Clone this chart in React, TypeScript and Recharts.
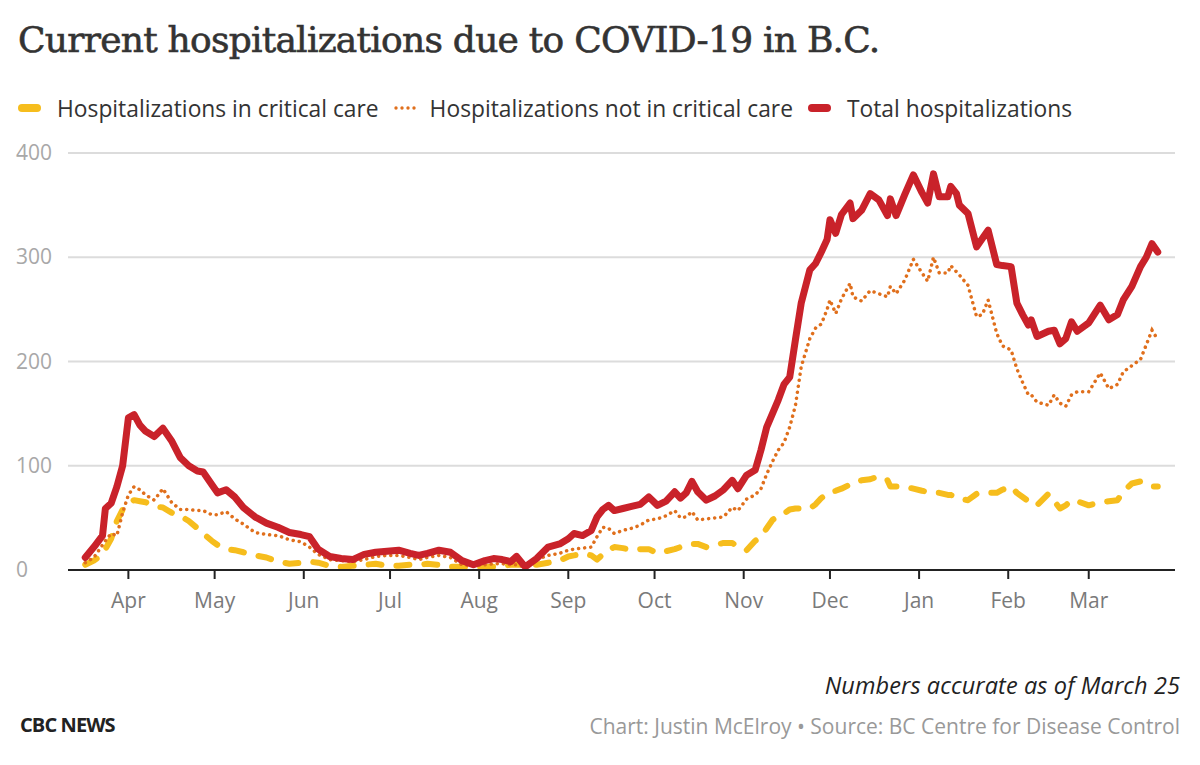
import { LineChart, Line, XAxis, YAxis, CartesianGrid } from "recharts";

// days counted from April 1, 2020 (day 0)
const DAYS = [
  -15, -12, -9, -8, -6, -4, -2, 0, 2, 4, 6, 9, 12, 15, 18, 21, 24, 26, 29, 31,
  34, 37, 40, 44, 48, 52, 56, 60, 63, 66, 70, 74, 78, 82, 86, 90, 94, 98, 101,
  104, 108, 112, 116, 120, 124, 127, 130, 133, 135, 138, 142, 146, 150, 153,
  155, 158, 161, 163, 165, 167, 169, 172, 175, 178, 181, 184, 187, 190, 192,
  194, 196, 198, 201, 204, 207, 210, 212, 215, 218, 220, 222, 224, 226, 228,
  230, 232, 234, 237, 239, 241, 243, 244, 246, 248, 251, 252, 255, 258, 261,
  264, 265, 267, 270, 273, 276, 278, 280, 282, 285, 286, 288, 289, 292, 295,
  297, 299, 302, 304, 307, 309, 311, 313, 314, 316, 320, 322, 324, 326, 328,
  330, 334, 338, 341, 344, 346, 349, 352, 354, 356, 358,
];

const TOTAL = [
  12, 22, 33, 59, 64, 80, 100, 146, 149, 139, 133, 128, 136, 124, 108, 100, 95,
  94, 82, 74, 77, 70, 60, 51, 45, 41, 36, 34, 32, 20, 13, 11, 10, 15, 17, 18,
  19, 16, 14, 16, 19, 17, 9, 5, 9, 11, 10, 8, 13, 3, 11, 22, 25, 30, 35, 33, 38,
  51, 58, 62, 57, 59, 61, 63, 70, 62, 66, 75, 69, 74, 85, 75, 67, 71, 77, 86,
  78, 91, 96, 115, 137, 150, 163, 178, 185, 221, 256, 288, 294, 305, 317, 336,
  323, 341, 352, 337, 345, 361, 355, 340, 356, 340, 360, 379, 362, 352, 380,
  358, 358, 368, 361, 350, 342, 310, 318, 326, 293, 292, 291, 256, 245, 235,
  240, 224, 229, 230, 217, 222, 238, 229, 237, 254, 240, 245, 259, 272, 291,
  300, 313, 305,
];

const NOT_CRITICAL = [
  7, 12, 24, 28, 35, 33, 55, 72, 80, 77, 72, 67, 78, 65, 58, 58, 57, 57, 53, 53,
  56, 49, 44, 36, 34, 33, 29, 27, 22, 15, 10, 9, 8, 10, 13, 14, 14, 12, 10, 12,
  14, 12, 5, 4, 5, 6, 6, 5, 5, 3, 10, 14, 16, 19, 20, 21, 22, 32, 41, 40, 35, 38,
  40, 43, 48, 49, 52, 57, 50, 51, 56, 48, 49, 50, 51, 60, 57, 68, 72, 78, 92,
  104, 115, 122, 137, 158, 195, 222, 232, 236, 250, 259, 246, 260, 275, 262,
  258, 268, 265, 262, 272, 265, 278, 298, 285, 277, 300, 285, 285, 292, 286,
  283, 273, 243, 245, 259, 227, 215, 211, 193, 180, 168, 168, 161, 158, 168,
  160, 157, 168, 171, 171, 189, 174, 178, 190, 196, 202, 216, 230, 221,
];

const CRITICAL = [
  5, 9, 15, 20, 30, 47, 58, 64, 67, 66, 65, 61, 60, 55, 52, 47, 40, 35, 28, 24,
  20, 19, 17, 14, 12, 8, 6, 7, 8, 7, 4, 3, 4, 5, 6, 4, 4, 5, 5, 6, 5, 3, 3, 3, 3,
  3, 4, 5, 5, 5, 5, 7, 9, 13, 14, 16, 14, 10, 15, 19, 22, 21, 19, 20, 20, 16,
  18, 20, 22, 24, 25, 25, 22, 24, 26, 26, 22, 19, 28, 32, 40, 48, 52, 54, 58,
  59, 59, 59, 63, 69, 73, 75, 76, 78, 82, 84, 86, 87, 90, 86, 80, 80, 80, 78,
  76, 75, 74, 74, 72, 72, 70, 68, 67, 73, 74, 74, 74, 77, 80, 74, 70, 66, 63,
  62, 73, 66, 59, 62, 67, 66, 62, 65, 66, 67, 75, 83, 85, 82, 80, 80,
];

const MONTH_TICKS = [0, 30, 61, 91, 122, 153, 183, 214, 244, 275, 306, 334];
const MONTH_LABELS = [
  "Apr", "May", "Jun", "Jul", "Aug", "Sep",
  "Oct", "Nov", "Dec", "Jan", "Feb", "Mar",
];
const Y_TICKS = [0, 100, 200, 300, 400];

const data = DAYS.map((day, i) => ({
  day,
  total: TOTAL[i],
  notCritical: NOT_CRITICAL[i],
  critical: CRITICAL[i],
}));

const RED = "#c9222a";
const ORANGE = "#e06f1c";
const YELLOW = "#f6bd1d";
const SANS = "'Open Sans', sans-serif";

const YTick = ({ y, payload }: any) => (
  <text x={16} y={y} dy={7} fill="#a8a8a8" fontSize={21} fontFamily={SANS}>
    {payload.value}
  </text>
);

function LegendItem({ kind, color, label }: { kind: string; color: string; label: string }) {
  return (
    <span style={{ display: "inline-flex", alignItems: "center", marginRight: 15 }}>
      {kind === "dots" ? (
        <svg width={22} height={8} style={{ marginRight: 14 }}>
          {[2, 8, 14, 20].map((cx) => (
            <circle key={cx} cx={cx} cy={4} r={1.7} fill={color} />
          ))}
        </svg>
      ) : (
        <span
          style={{
            display: "inline-block",
            width: 23,
            height: 8,
            borderRadius: 4,
            background: color,
            marginRight: 16,
          }}
        />
      )}
      {label}
    </span>
  );
}

export default function App() {
  return (
    <div
      style={{
        position: "absolute",
        left: 0,
        top: 0,
        width: 1200,
        height: 765,
        background: "#fff",
        overflow: "hidden",
      }}
    >
      <div
        style={{
          position: "absolute",
          left: 18,
          top: 19,
          fontFamily: "'DejaVu Serif', serif",
          fontSize: 36,
          color: "#333",
          letterSpacing: -0.75,
          WebkitTextStroke: "0.6px #333",
          whiteSpace: "nowrap",
        }}
      >
        Current hospitalizations due to COVID-19 in B.C.
      </div>
      <div
        style={{
          position: "absolute",
          left: 18,
          top: 88,
          fontFamily: SANS,
          fontSize: 22.8,
          color: "#333",
          whiteSpace: "nowrap",
        }}
      >
        <LegendItem kind="bar" color={YELLOW} label="Hospitalizations in critical care" />
        <LegendItem kind="dots" color={ORANGE} label="Hospitalizations not in critical care" />
        <LegendItem kind="bar" color={RED} label="Total hospitalizations" />
      </div>

      <div style={{ position: "absolute", left: 0, top: 0 }}>
        <LineChart
          width={1200}
          height={765}
          data={data}
          margin={{ top: 153, right: 25, bottom: 135, left: 8 }}
        >
          <CartesianGrid vertical={false} stroke="#dcdcdc" strokeWidth={2} />
          <XAxis
            dataKey="day"
            type="number"
            domain={[-21, 364]}
            ticks={MONTH_TICKS}
            tickFormatter={(v: number) => MONTH_LABELS[MONTH_TICKS.indexOf(v)]}
            axisLine={{ stroke: "#222", strokeWidth: 2 }}
            tickLine={{ stroke: "#222", strokeWidth: 2 }}
            tickSize={9}
            tickMargin={14}
            tick={{ fill: "#7a7a7a", fontSize: 21, fontFamily: SANS }}
            height={60}
          />
          <YAxis
            domain={[0, 400]}
            ticks={Y_TICKS}
            width={60}
            axisLine={false}
            tickLine={false}
            tick={<YTick />}
          />
          <Line
            dataKey="critical"
            stroke={YELLOW}
            strokeWidth={6}
            strokeDasharray="13 15"
            strokeLinecap="round"
            strokeLinejoin="round"
            dot={false}
            type="linear"
            isAnimationActive={false}
          />
          <Line
            dataKey="notCritical"
            stroke={ORANGE}
            strokeWidth={3.5}
            strokeDasharray="0.1 6"
            strokeLinecap="round"
            dot={false}
            type="linear"
            isAnimationActive={false}
          />
          <Line
            dataKey="total"
            stroke={RED}
            strokeWidth={7}
            strokeLinejoin="round"
            strokeLinecap="round"
            dot={false}
            type="linear"
            isAnimationActive={false}
          />
        </LineChart>
      </div>

      <div
        style={{
          position: "absolute",
          right: 20,
          top: 669,
          fontFamily: SANS,
          fontStyle: "italic",
          fontSize: 23.5,
          letterSpacing: 0.1,
          color: "#222",
        }}
      >
        Numbers accurate as of March 25
      </div>
      <div
        style={{
          position: "absolute",
          left: 20,
          top: 711,
          fontFamily: SANS,
          fontWeight: "bold",
          fontSize: 20,
          letterSpacing: -0.9,
          color: "#222",
        }}
      >
        CBC NEWS
      </div>
      <div
        style={{
          position: "absolute",
          right: 20,
          top: 712,
          fontFamily: SANS,
          fontSize: 21,
          color: "#999",
        }}
      >
        Chart: Justin McElroy • Source: BC Centre for Disease Control
      </div>
    </div>
  );
}
